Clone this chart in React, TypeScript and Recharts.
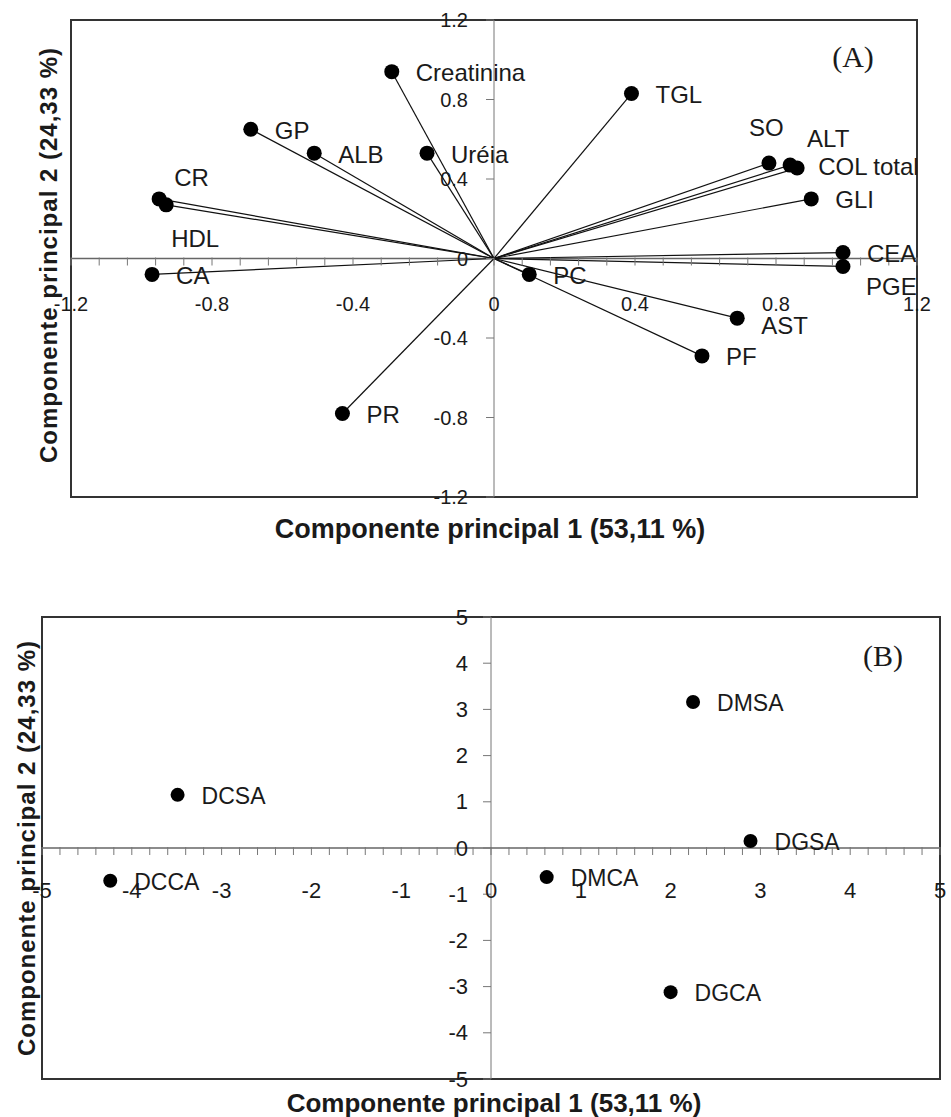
import React from 'react';
import { ScatterChart, Scatter, XAxis, YAxis, ReferenceLine, ReferenceDot, ReferenceArea } from 'recharts';

// (A) variable loadings on the first two principal components
const variables = ['Creatinina', 'GP', 'ALB', 'Uréia', 'CR', 'HDL', 'CA', 'TGL', 'SO', 'ALT', 'COL total', 'GLI', 'CEA', 'PGE2', 'PC', 'AST', 'PF', 'PR'];
const pc1Loadings = [-0.29, -0.69, -0.51, -0.19, -0.95, -0.93, -0.97, 0.39, 0.78, 0.84, 0.86, 0.9, 0.99, 0.99, 0.1, 0.69, 0.59, -0.43];
const pc2Loadings = [0.94, 0.65, 0.53, 0.53, 0.3, 0.27, -0.08, 0.83, 0.48, 0.47, 0.455, 0.3, 0.03, -0.04, -0.08, -0.3, -0.49, -0.78];
const loadingTicks = [-1.2, -0.8, -0.4, 0, 0.4, 0.8, 1.2];

// (B) treatment scores
const treatments = ['DMSA', 'DCSA', 'DGSA', 'DCCA', 'DMCA', 'DGCA'];
const pc1Scores = [2.25, -3.49, 2.89, -4.24, 0.62, 2.0];
const pc2Scores = [3.16, 1.15, 0.15, -0.71, -0.63, -3.12];
const scoreTicks = [-5, -4, -3, -2, -1, 0, 1, 2, 3, 4, 5];

const SANS = '"Liberation Sans", Arial, sans-serif';
const SERIF = '"Liberation Serif", "Times New Roman", serif';
const INK = '#1a1a1a';

// label nudges (px) for crowded points, default is to the right
const nudge: Record<string, [number, number]> = {
  CR: [15, -21],
  HDL: [5, 34],
  SO: [-20, -36],
  ALT: [17, -27],
  'COL total': [21, -2],
  PGE2: [23, 20],
  AST: [24, 7],
};

const loadingData = variables.map((name, i) => ({ name, x: pc1Loadings[i], y: pc2Loadings[i] }));
const scoreData = treatments.map((name, i) => ({ name, x: pc1Scores[i], y: pc2Scores[i] }));

const steps = (from: number, to: number, step: number) => {
  const out: number[] = [];
  const n = Math.round((to - from) / step);
  for (let k = 0; k <= n; k++) out.push(Math.round((from + k * step) * 1000) / 1000);
  return out;
};

const renderPoint = (fontSize: number, r: number) => (p: any) => {
  const name: string = p.payload.name;
  const [dx, dy] = nudge[name] || [24, 1];
  return (
    <g>
      <circle cx={p.cx} cy={p.cy} r={r} fill="#000" />
      <text x={p.cx + dx} y={p.cy + dy} dominantBaseline="central" fontSize={fontSize} fontFamily={SANS} fill={INK}>
        {name === 'PGE2' ? (
          <>
            PGE<tspan dy={7} fontSize={fontSize * 0.75}>2</tspan>
          </>
        ) : (
          name
        )}
      </text>
    </g>
  );
};

function axisDecor(minor: number[], major: number[], xLabelOffset: number, yLabelOffset: number, fontSize: number, key: string) {
  const out: React.ReactNode[] = [];
  minor.forEach((t) =>
    out.push(
      <ReferenceDot key={`${key}mx${t}`} x={t} y={0} r={0} ifOverflow="visible"
        shape={(p: any) => <line x1={p.cx} y1={p.cy - 1} x2={p.cx} y2={p.cy + 7} stroke="#777" strokeWidth={1} />} />
    )
  );
  major.forEach((t) => {
    out.push(
      <ReferenceDot key={`${key}my${t}`} x={0} y={t} r={0} ifOverflow="visible"
        shape={(p: any) => <line x1={p.cx - 8} y1={p.cy} x2={p.cx} y2={p.cy} stroke="#777" strokeWidth={1} />} />
    );
    out.push(
      <ReferenceDot key={`${key}lx${t}`} x={t} y={0} r={0} ifOverflow="visible"
        shape={(p: any) => (
          <text x={p.cx} y={p.cy + xLabelOffset} textAnchor="middle" dominantBaseline="central" fontSize={fontSize} fontFamily={SANS} fill={INK}>{t}</text>
        )} />
    );
    out.push(
      <ReferenceDot key={`${key}ly${t}`} x={0} y={t} r={0} ifOverflow="visible"
        shape={(p: any) => (
          <text x={p.cx - yLabelOffset} y={p.cy} textAnchor="end" dominantBaseline="central" fontSize={fontSize} fontFamily={SANS} fill={INK}>{t}</text>
        )} />
    );
  });
  return out;
}

function LoadingPlot() {
  return (
    <ScatterChart width={951} height={560} margin={{ top: 20, right: 34, bottom: 63, left: 71 }} style={{ fontFamily: SANS }}>
      <XAxis type="number" dataKey="x" domain={[-1.2, 1.2]} allowDataOverflow hide />
      <YAxis type="number" dataKey="y" domain={[-1.2, 1.2]} allowDataOverflow hide />
      <ReferenceArea x1={-1.2} x2={1.2} y1={-1.2} y2={1.2} fill="none" fillOpacity={0} stroke="#333" strokeWidth={2} ifOverflow="visible" />
      <ReferenceLine x={0} stroke="#777" strokeWidth={1} />
      <ReferenceLine y={0} stroke="#666" strokeWidth={1.5} />
      {axisDecor(steps(-1.2, 1.2, 0.08), loadingTicks, 45, 26, 20, 'a')}
      {loadingData.map((d) => (
        <ReferenceLine key={d.name} segment={[{ x: 0, y: 0 }, { x: d.x, y: d.y }]} stroke="#111" strokeWidth={1.2} ifOverflow="visible" />
      ))}
      <Scatter data={loadingData} isAnimationActive={false} shape={renderPoint(24, 7.5)} />
    </ScatterChart>
  );
}

function ScorePlot() {
  return (
    <ScatterChart width={951} height={557} margin={{ top: 57, right: 11, bottom: 38, left: 42 }} style={{ fontFamily: SANS }}>
      <XAxis type="number" dataKey="x" domain={[-5, 5]} allowDataOverflow hide />
      <YAxis type="number" dataKey="y" domain={[-5, 5]} allowDataOverflow hide />
      <ReferenceArea x1={-5} x2={5} y1={-5} y2={5} fill="none" fillOpacity={0} stroke="#333" strokeWidth={2} ifOverflow="visible" />
      <ReferenceLine x={0} stroke="#777" strokeWidth={1} />
      <ReferenceLine y={0} stroke="#666" strokeWidth={1.5} />
      {axisDecor(steps(-5, 5, 0.2), scoreTicks, 42, 23, 22, 'b')}
      <Scatter data={scoreData} isAnimationActive={false} shape={renderPoint(23, 7)} />
    </ScatterChart>
  );
}

export default function App() {
  return (
    <div style={{ position: 'absolute', left: 0, top: 0, width: 951, height: 1117, background: '#fff' }}>
      <div style={{ position: 'absolute', left: 0, top: 0 }}>
        <LoadingPlot />
      </div>
      <div style={{ position: 'absolute', left: 0, top: 560 }}>
        <ScorePlot />
      </div>
      <svg width={951} height={1117} style={{ position: 'absolute', left: 0, top: 0, pointerEvents: 'none' }}>
        <text transform="translate(48,255) rotate(-90)" textAnchor="middle" dominantBaseline="central" fontSize={24} fontWeight="bold" letterSpacing={1} fontFamily={SANS} fill={INK}>
          Componente principal 2 (24,33 %)
        </text>
        <text x={490} y={529} textAnchor="middle" dominantBaseline="central" fontSize={27} fontWeight="bold" fontFamily={SANS} fill={INK}>
          Componente principal 1 (53,11 %)
        </text>
        <text x={853} y={56} textAnchor="middle" dominantBaseline="central" fontSize={30} fontFamily={SERIF} fill={INK}>(A)</text>
        <text transform="translate(26,848) rotate(-90)" textAnchor="middle" dominantBaseline="central" fontSize={24} fontWeight="bold" letterSpacing={1} fontFamily={SANS} fill={INK}>
          Componente principal 2 (24,33 %)
        </text>
        <text x={494} y={1103} textAnchor="middle" dominantBaseline="central" fontSize={26} fontWeight="bold" fontFamily={SANS} fill={INK}>
          Componente principal 1 (53,11 %)
        </text>
        <text x={883} y={655} textAnchor="middle" dominantBaseline="central" fontSize={30} fontFamily={SERIF} fill={INK}>(B)</text>
      </svg>
    </div>
  );
}
